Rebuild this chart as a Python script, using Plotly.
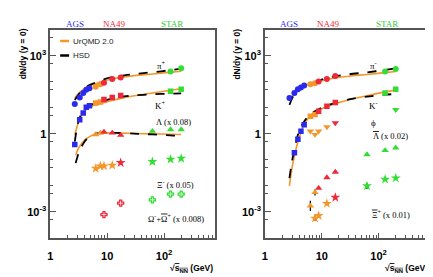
import plotly.graph_objects as go

W, H = 433, 277

# ---------------- data ----------------
# source codes: A = AGS (blue), O = NA49 new (orange), R = NA49 (red), S = STAR (green)
pip_s = [2.7, 3.3, 3.8, 4.3, 4.9, 6.3, 7.6, 8.8, 12.3, 17.3, 130, 200]
pip_v = [14, 25, 37, 49, 57, 64, 81, 91, 129, 145, 247, 330]
pip_src = ["A", "A", "A", "A", "A", "O", "O", "R", "R", "R", "S", "S"]

kp_s = [2.7, 3.3, 3.8, 4.3, 4.9, 6.3, 7.6, 8.8, 12.3, 17.3, 130, 200]
kp_v = [0.39, 3.5, 6.3, 10.4, 12, 15.3, 16.7, 21, 25, 30, 43, 52]
kp_src = ["A", "A", "A", "A", "A", "O", "O", "R", "R", "R", "S", "S"]

lam_s = [6.3, 7.6, 8.8, 12.3, 17.3, 62.4, 130, 200]
lam_v = [0.94, 1.09, 1.19, 1.09, 0.89, 1.27, 1.46, 1.46]          # x 0.08
lam_src = ["O", "O", "R", "R", "R", "S", "S", "S"]

xim_s = [6.3, 7.6, 8.8, 12.3, 17.3, 62.4, 130, 200]
xim_v = [0.047, 0.058, 0.058, 0.062, 0.078, 0.085, 0.105, 0.114]   # x 0.05
xim_src = ["O", "O", "O", "O", "R", "S", "S", "S"]
xim_err = [0, 0, 0, 0, 0, 0.012, 0, 0]

om_s = [8.8, 17.3, 62.4, 130, 200]
om_v = [7.9e-4, 2.2e-3, 2.9e-3, 4.8e-3, 4.8e-3]                    # x 0.008
om_src = ["R", "R", "S", "S", "S"]

pim_s = [2.7, 3.3, 3.8, 4.3, 4.9, 6.3, 7.6, 8.8, 12.3, 17.3, 130, 200]
pim_v = [23.7, 36.7, 52, 60, 72, 81, 88, 102, 129, 168, 247, 310]
pim_src = ["A", "A", "A", "A", "A", "O", "O", "R", "R", "R", "S", "S"]

km_s = [3.3, 3.8, 4.3, 4.9, 6.3, 7.6, 8.8, 12.3, 17.3, 130, 200]
km_v = [0.188, 0.62, 1.27, 2.26, 4.7, 5.5, 7.3, 11.4, 16.1, 37, 52]
km_src = ["A", "A", "A", "A", "O", "O", "R", "R", "R", "S", "S"]

phi_s = [6.3, 7.6, 8.8, 12.3, 17.3, 200]
phi_v = [1.27, 0.94, 1.27, 1.85, 2.63, 8.5]
phi_src = ["O", "O", "O", "O", "R", "S"]

alam_s = [6.3, 7.6, 8.8, 12.3, 17.3, 62.4, 130, 200]
alam_v = [0.0017, 0.0056, 0.0082, 0.021, 0.034, 0.16, 0.23, 0.29]  # x 0.02
alam_src = ["O", "O", "R", "R", "R", "S", "S", "S"]
alam_errp = [0.001, 0.0017, 0, 0, 0, 0, 0, 0]
alam_errm = [0.0006, 0.0013, 0, 0, 0, 0, 0, 0]

axi_s = [7.6, 8.8, 12.3, 17.3, 62.4, 130, 200]
axi_v = [5.7e-4, 7.2e-4, 2.1e-3, 3.6e-3, 0.010, 0.018, 0.020]       # x 0.01
axi_src = ["O", "O", "O", "R", "S", "S", "S"]
axi_errp = [1.6e-4, 0, 0, 0, 0.003, 0, 0]
axi_errm = [1.2e-4, 0, 0, 0, 0.0023, 0, 0]

# model curves
mod_s = [2.7, 3.2, 4, 5, 6.5, 9, 12, 17.3, 30, 62, 130, 200]
urqmd_pip = [24, 37, 54, 70, 86, 110, 128, 148, 172, 200, 232, 255]
hsd_pip = [20, 34, 56, 76, 96, 126, 150, 172, 198, 232, 280, 318]
urqmd_kp = [0.9, 3.2, 7.5, 10.8, 13.2, 16, 19, 23, 29, 37, 47, 54]
hsd_kp = [0.5, 3.6, 9, 12.5, 15.5, 19, 22.5, 26.5, 30, 33, 35, 36]
mod_lam_s = [2.8, 3.2, 4, 5, 6.5, 9, 12, 17.3, 30, 62, 130, 200]
urqmd_lam = [0.15, 0.3, 0.56, 0.8, 0.98, 1.07, 1.09, 1.07, 1.03, 1.0, 0.96, 0.94]
hsd_lam = [0.075, 0.2, 0.5, 0.85, 1.05, 1.1, 1.1, 1.08, 1.02, 0.95, 0.88, 0.82]
urqmd_pim = [18, 35, 55, 71, 85, 104, 121, 140, 164, 190, 224, 247]
hsd_pim = [13, 30, 55, 72, 88, 114, 138, 163, 194, 230, 284, 330]
mod_km_s = [2.7, 3.0, 3.5, 4, 5, 6.5, 9, 12, 17.3, 30, 62, 130, 200]
urqmd_km = [0.01, 0.05, 0.25, 0.7, 2.5, 5.3, 8.3, 10.8, 14.5, 20.5, 29, 41, 49]
hsd_km = [0.02, 0.09, 0.45, 1.3, 3.2, 6.0, 9, 12, 15.5, 21, 27, 32, 34]

# tick labels
x_tickvals = [1, 10, 100]
x_ticktext = ["1", "10", "10<sup>2</sup>"]
y_tickvals = [1e-3, 1, 1e3]
y_ticktext = ["10<sup>-3</sup>", "1", "10<sup>3</sup>"]

# ---------------- styling ----------------
COL = {"A": "#2a2aee", "O": "#f5962a", "R": "#ee2a3a", "S": "#33dd33"}
ORANGE = "#f5962a"
SERIF = "Liberation Serif"
SANS = "Liberation Sans"


def px(x):
    return x / W


def py(y):
    return 1 - y / H


fig = go.Figure()


def add_line(s, v, color, dash, width, xa, ya):
    fig.add_trace(go.Scatter(x=s, y=v, mode="lines", line=dict(color=color, dash=dash, width=width, shape="spline", smoothing=0.8),
                             xaxis=xa, yaxis=ya, showlegend=False, hoverinfo="skip"))


def add_data(s, v, src, symbol, size, xa, ya, open_=False, errp=None, errm=None):
    colors = [COL[c] for c in src]
    marker = dict(symbol=symbol, size=size, color=colors, line=dict(width=0))
    if open_:
        marker["line"] = dict(width=1.3, color=colors)
    kw = {}
    if errp is not None:
        kw["error_y"] = dict(type="data", symmetric=False, array=errp, arrayminus=errm, color="black", thickness=1.2, width=0)
    fig.add_trace(go.Scatter(x=s, y=v, mode="markers", marker=marker, xaxis=xa, yaxis=ya, showlegend=False, **kw))


# left panel curves
add_line(mod_s, urqmd_pip, ORANGE, "solid", 1.6, "x", "y")
add_line(mod_s, hsd_pip, "black", "dash", 1.8, "x", "y")
add_line(mod_s, urqmd_kp, ORANGE, "solid", 1.6, "x", "y")
add_line(mod_s, hsd_kp, "black", "dash", 1.8, "x", "y")
add_line(mod_lam_s, urqmd_lam, ORANGE, "solid", 1.6, "x", "y")
add_line(mod_lam_s, hsd_lam, "black", "dash", 1.8, "x", "y")

# left panel data
add_data(pip_s, pip_v, pip_src, "circle", 6, "x", "y")
add_data(kp_s, kp_v, kp_src, "square", 5.5, "x", "y")
add_data(lam_s, lam_v, lam_src, "triangle-up", 6.5, "x", "y")
add_data(xim_s, xim_v, xim_src, "star", 7.5, "x", "y", errp=xim_err, errm=xim_err)
add_data(om_s, om_v, om_src, "cross-open", 5, "x", "y", open_=True)

# right panel curves
add_line(mod_s, urqmd_pim, ORANGE, "solid", 1.6, "x2", "y2")
add_line(mod_s, hsd_pim, "black", "dash", 1.8, "x2", "y2")
add_line(mod_km_s, urqmd_km, ORANGE, "solid", 1.6, "x2", "y2")
add_line(mod_km_s, hsd_km, "black", "dash", 1.8, "x2", "y2")

# right panel data
add_data(pim_s, pim_v, pim_src, "circle", 6, "x2", "y2")
add_data(km_s, km_v, km_src, "square", 5.5, "x2", "y2")
add_data(phi_s, phi_v, phi_src, "triangle-down", 6.5, "x2", "y2")
add_data(alam_s, alam_v, alam_src, "triangle-up", 6.5, "x2", "y2", errp=alam_errp, errm=alam_errm)
add_data(axi_s, axi_v, axi_src, "star", 7.5, "x2", "y2", errp=axi_errp, errm=axi_errm)

FRAME = "#555555"
x_minor = [v * d for d in (1, 10, 100) for v in range(2, 10)]
y_minor = []
for e in range(-4, 4):
    y_minor.append(5 * 10 ** e)
    if e not in (-3, 0, 3) and e > -4:
        y_minor.append(10 ** e)


def xaxis(domain, anchor):
    return dict(domain=domain, anchor=anchor, type="log", range=[0, 2.9], showgrid=False, zeroline=False,
                showline=True, mirror=True, linecolor=FRAME, linewidth=1.5,
                ticks="inside", ticklen=5, tickwidth=1, tickcolor=FRAME,
                tickmode="array", tickvals=x_tickvals, ticktext=x_ticktext,
                tickfont=dict(family=SANS, size=11, color="black", weight="bold"), ticklabelstandoff=7,
                minor=dict(tickmode="array", tickvals=x_minor, ticks="inside", ticklen=3, tickcolor=FRAME, tickwidth=1))


def yaxis(domain, anchor):
    return dict(domain=domain, anchor=anchor, type="log", range=[-4, 4], showgrid=False, zeroline=False,
                showline=True, mirror=True, linecolor=FRAME, linewidth=1.5,
                ticks="inside", ticklen=6, tickwidth=1, tickcolor=FRAME,
                tickmode="array", tickvals=y_tickvals, ticktext=y_ticktext,
                tickfont=dict(family=SANS, size=11, color="black", weight="bold"),
                minor=dict(tickmode="array", tickvals=y_minor, ticks="inside", ticklen=3.5, tickcolor=FRAME, tickwidth=1))


ydom = [py(230), py(21.7)]
fig.update_layout(
    width=W, height=H, margin=dict(l=0, r=0, t=0, b=0), autosize=False,
    paper_bgcolor="white", plot_bgcolor="white", showlegend=False,
    xaxis=xaxis([px(39.5), px(205.7)], "y"),
    yaxis=yaxis(ydom, "x"),
    xaxis2=xaxis([px(255.7), px(421.7)], "y2"),
    yaxis2=yaxis(ydom, "x2"),
)

ann = []


def text(x, y, t, size=9, family=SERIF, color="black", xanchor="center", angle=0, bold=False):
    ann.append(dict(x=px(x), y=py(y), xref="paper", yref="paper", text=t, showarrow=False,
                    xanchor=xanchor, yanchor="middle", textangle=angle,
                    font=dict(family=family, size=size, color=color, weight="bold" if bold else "normal")))


OL = "<span style='text-decoration:overline'>%s</span>"

# experiment labels
for xs in ((64, 103.3, 162.5), (280, 319, 379)):
    text(xs[0], 15.5, "AGS", 9, SERIF, "#2a2aee")
    text(xs[1], 15.5, "NA49", 9, SERIF, "#ee2a3a")
    text(xs[2], 15.5, "STAR", 9, SERIF, "#33cc33")

# axis titles
text(11.7, 45.7, "dN/dy (y = 0)", 8.5, SANS, angle=-90, bold=True)
text(227.5, 45.7, "dN/dy (y = 0)", 8.5, SANS, angle=-90, bold=True)
xt = "√" + OL % "s<sub>NN</sub>" + " (GeV)"
text(205.7, 260, xt, 8.5, SANS, xanchor="right", bold=True)
text(421.7, 260, xt, 8.5, SANS, xanchor="right", bold=True)

# particle labels left
text(152, 57, "π<sup>+</sup>", 9)
text(150.5, 96.5, "K<sup>+</sup>", 9)
text(164, 114, "Λ (x 0.08)", 8.5)
text(166, 176, "Ξ<sup>-</sup> (x 0.05)", 8.5)
text(166, 210, "Ω<sup>-</sup>+" + OL % "Ω" + "<sup>+</sup> (x 0.008)", 8.5)
# particle labels right
text(365, 57, "π<sup>-</sup>", 9)
text(365.5, 97, "K<sup>-</sup>", 9)
text(365, 115, "ϕ", 9)
text(381.7, 128.5, OL % "Λ" + " (x 0.02)", 8.5)
text(383, 206, OL % "Ξ" + "<sup>+</sup> (x 0.01)", 8.5)

# legend
text(60, 33, "UrQMD 2.0", 8, SANS, "#222222", xanchor="left")
text(60, 47.5, "HSD", 8, SANS, "#222222", xanchor="left")
fig.add_shape(type="line", xref="paper", yref="paper", x0=px(49.5), x1=px(58.5), y0=py(33), y1=py(33),
              line=dict(color=ORANGE, width=2.5))
fig.add_shape(type="line", xref="paper", yref="paper", x0=px(49.5), x1=px(58.5), y0=py(47.5), y1=py(47.5),
              line=dict(color="black", width=2.5))

fig.update_layout(annotations=ann)
fig.write_html("out.html")
